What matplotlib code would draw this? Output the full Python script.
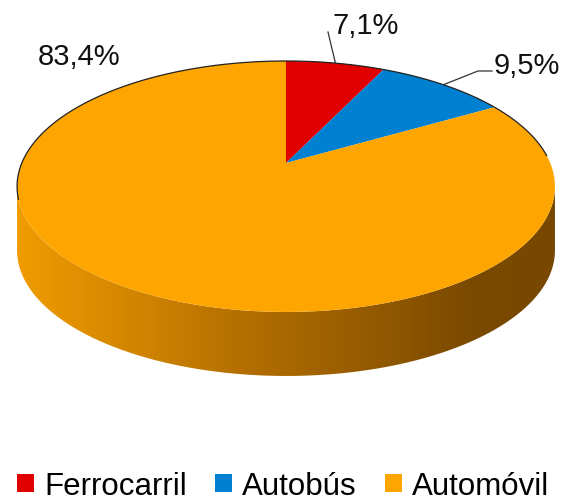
import numpy as np
import matplotlib
matplotlib.use("Agg")
import matplotlib.pyplot as plt
from matplotlib.patches import Polygon, Patch
from matplotlib.colors import LinearSegmentedColormap

# ---- data ----
categories = ['Ferrocarril', 'Autobús', 'Automóvil']
shares = [7.1, 9.5, 83.4]
labels = ['7,1%', '9,5%', '83,4%']
colors = ['#E00000', '#0080D0', '#FFA500']

plt.rcParams['font.family'] = ['Liberation Sans', 'DejaVu Sans']

W, H = 566, 502
fig = plt.figure(figsize=(W / 100, H / 100), dpi=100)
ax = fig.add_axes([0, 0, 1, 1])
ax.set_xlim(0, W)
ax.set_ylim(H, 0)
ax.axis('off')

# perspective projection of a tilted disc
cx, cy = 286, 164
A, B, k = 264.2, 121.1, 0.187
depth = 64


def proj(t):
    """t: angle clockwise from 12 o'clock (radians)."""
    u = np.sin(t)
    v = np.cos(t)
    w = 1 + k * v
    return cx + A * u / w, cy - B * v / w


# ---- side (front rim) with horizontal gradient ----
t1 = np.arccos(-k)
t2 = 2 * np.pi - t1
ts = np.linspace(t1, t2, 300)
xt, yt = proj(ts)
xs = np.concatenate([xt, xt[::-1]])
ys = np.concatenate([yt, yt[::-1] + depth])
side = Polygon(np.column_stack([xs, ys]), closed=True, facecolor='none',
               edgecolor='none')
ax.add_patch(side)
cmap = LinearSegmentedColormap.from_list(
    'rim', [(0.0, '#F09C00'), (0.45, '#B06C00'), (0.85, '#7A4A00'), (1.0, '#784800')])
grad = np.linspace(0, 1, 512).reshape(1, -1)
im = ax.imshow(grad, cmap=cmap, aspect='auto',
               extent=[xs.min(), xs.max(), ys.max(), ys.min()], zorder=1,
               interpolation='bilinear')
im.set_clip_path(side)

# ---- top face wedges ----
cum = np.concatenate([[0], np.cumsum(shares)]) / np.sum(shares) * 2 * np.pi
for i in range(len(shares)):
    tt = np.linspace(cum[i], cum[i + 1], 200)
    px, py = proj(tt)
    pts = np.column_stack([np.concatenate([[cx], px]), np.concatenate([[cy], py])])
    ax.add_patch(Polygon(pts, closed=True, facecolor=colors[i], edgecolor='none',
                         zorder=2))

# thin dark outline along the back edge
tb = np.linspace(-np.pi + t1 - 0.05 + np.pi, 2 * np.pi, 10)
tb = np.linspace(t2 - 2 * np.pi - 0.1, t1 - 0.25, 300)
bx, by = proj(tb)
ax.plot(bx, by, color='#222222', lw=0.9, zorder=3)

# ---- labels and leader lines ----
mids = (cum[:-1] + cum[1:]) / 2
mx, my = proj(mids)
# 7,1%
ax.plot([mx[0], 328], [my[0], 33], color='#333333', lw=0.9, zorder=3)
ax.text(332, 34, labels[0], fontsize=21, ha='left', va='baseline', color='#111111')
# 9,5%
ax.plot([mx[1], 478, 492], [my[1], 72, 72], color='#333333', lw=0.9, zorder=3)
ax.text(494, 74, labels[1], fontsize=21, ha='left', va='baseline', color='#111111')
# 83,4%
ax.text(38, 65, labels[2], fontsize=21, ha='left', va='baseline', color='#111111')

# ---- legend ----
handles = [Patch(facecolor=c, edgecolor='none') for c in colors]
leg = ax.legend(handles, categories, loc='center', bbox_to_anchor=(0.5, 1 - 487 / H),
                bbox_transform=ax.transAxes, ncol=3, frameon=False, fontsize=22.5,
                handlelength=0.55, handleheight=0.55, handletextpad=0.32,
                columnspacing=0.9, borderpad=0, borderaxespad=0)

fig.savefig('out.png', dpi=100, facecolor='white')
